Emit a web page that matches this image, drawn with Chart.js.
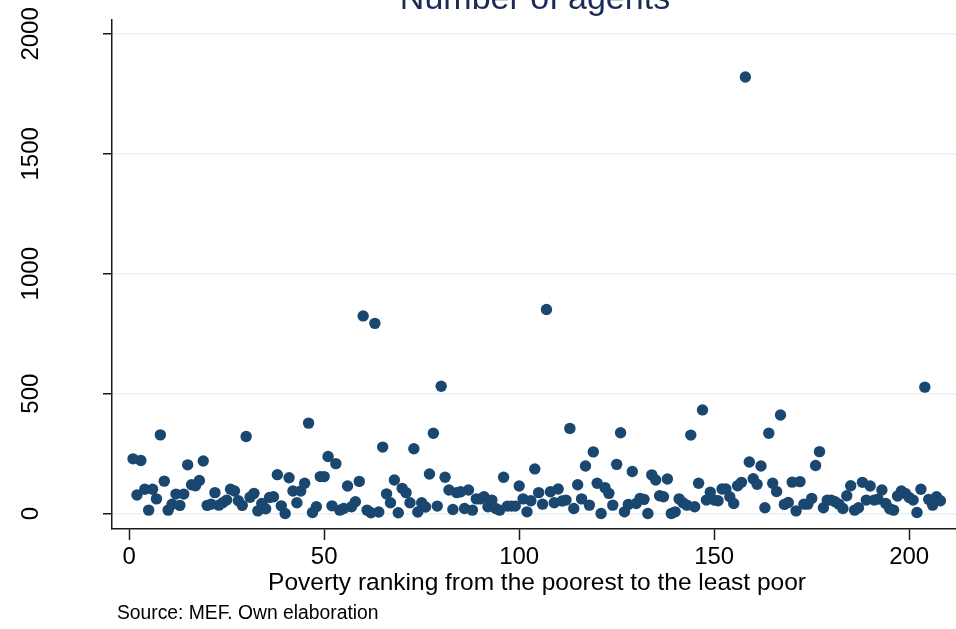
<!DOCTYPE html>
<html><head><meta charset="utf-8">
<script src="https://cdn.jsdelivr.net/npm/chart.js@4.4.1/dist/chart.umd.min.js"></script>
<style>html,body{margin:0;padding:0;background:#fff;overflow:hidden;}#wrap{width:956px;height:629px;}canvas{display:block;}</style>
</head><body><div id="wrap"><canvas id="c" width="956" height="629"></canvas></div>
<script>
const ranks = [1,2,3,4,5,6,7,8,9,10,11,12,13,14,15,16,17,18,19,20,21,22,23,24,25,26,27,28,29,30,31,32,33,34,35,36,37,38,39,40,41,42,43,44,45,46,47,48,49,50,51,52,53,54,55,56,57,58,59,60,61,62,63,64,65,66,67,68,69,70,71,72,73,74,75,76,77,78,79,80,81,82,83,84,85,86,87,88,89,90,91,92,93,94,95,96,97,98,99,100,101,102,103,104,105,106,107,108,109,110,111,112,113,114,115,116,117,118,119,120,121,122,123,124,125,126,127,128,129,130,131,132,133,134,135,136,137,138,139,140,141,142,143,144,145,146,147,148,149,150,151,152,153,154,155,156,157,158,159,160,161,162,163,164,165,166,167,168,169,170,171,172,173,174,175,176,177,178,179,180,181,182,183,184,185,186,187,188,189,190,191,192,193,194,195,196,197,198,199,200,201,202,203,204,205,206,207,208];
const agents = [228,77,221,101,14,101,61,328,135,14,39,81,34,81,203,120,116,138,219,34,
39,87,35,45,56,101,94,53,34,321,68,84,11,42,20,67,70,162,32,0,
149,94,45,94,126,377,4,28,154,154,238,32,208,14,21,115,28,49,134,824,
14,3,793,6,277,82,45,140,3,105,87,45,270,6,45,27,165,335,31,531,
151,98,17,87,91,21,98,14,61,61,70,28,56,21,14,151,31,31,31,115,
61,7,53,186,87,39,851,91,45,102,52,56,355,21,120,61,198,35,257,126,
0,108,84,35,205,337,7,38,175,42,63,59,0,161,140,74,70,144,0,7,
61,45,35,327,28,126,432,56,89,56,53,102,102,70,42,116,130,1820,215,145,
122,198,24,335,126,92,411,38,46,131,11,133,39,39,63,200,258,24,56,56,
49,39,21,74,116,14,24,130,56,115,56,60,98,42,20,14,73,94,84,67,
56,4,101,527,59,35,70,53];
const xTicks = [0,50,100,150,200];
const yTicks = [0,500,1000,1500,2000];
const titleText = 'Number of agents';
const xTitle = 'Poverty ranking from the poorest to the least poor';
const noteText = 'Source: MEF. Own elaboration';

const FONT = '"Liberation Sans", Arial, sans-serif';
const textPlugin = {
  id: 'texts',
  beforeDraw(chart){
    const ctx = chart.ctx; ctx.save(); ctx.fillStyle='#fff'; ctx.fillRect(0,0,chart.width,chart.height); ctx.restore();
  },
  afterDraw(chart){
    const ctx = chart.ctx; ctx.save();
    ctx.textBaseline='alphabetic';
    ctx.fillStyle='#1c2b55'; ctx.textAlign='center'; ctx.font='34px '+FONT;
    ctx.fillText(titleText, 535, 9);
    ctx.fillStyle='#000'; ctx.font='24.5px '+FONT;
    ctx.fillText(xTitle, 537, 590);
    ctx.textAlign='left'; ctx.font='19.3px '+FONT;
    ctx.fillText(noteText, 117, 619);
    ctx.restore();
  }
};
const noPad = s => { s.paddingTop=0; s.paddingBottom=0; s.paddingLeft=0; s.paddingRight=0; };

new Chart(document.getElementById('c'), {
  type: 'scatter',
  data: { datasets: [{ data: ranks.map((r,i)=>({x:r,y:agents[i]})), backgroundColor:'#1a476f', borderWidth:0, pointRadius:5.7, pointHoverRadius:5.7 }] },
  options: {
    responsive:false, animation:false, devicePixelRatio:1,
    layout:{autoPadding:false, padding:{top:20,left:0,right:0,bottom:0}},
    plugins:{legend:{display:false}, tooltip:{enabled:false}},
    scales:{
      x:{ type:'linear', min:-4.4, max:212,
        afterBuildTicks:s=>{s.ticks=xTicks.map(v=>({value:v}));},
        afterFit:s=>{s.height=100; noPad(s);},
        grid:{drawOnChartArea:false, drawTicks:true, tickLength:11, tickColor:'#1a1a1a', tickWidth:1.5},
        border:{display:true, color:'#1a1a1a', width:1.5},
        ticks:{font:{family:FONT,size:24}, color:'#000', padding:3, maxRotation:0, autoSkip:false, callback:v=>String(v)}
      },
      y:{ type:'linear', min:-64.6, max:2058,
        afterBuildTicks:s=>{s.ticks=yTicks.map(v=>({value:v}));},
        afterFit:s=>{s.width=112; noPad(s);},
        grid:{color:'#e8f0f2', lineWidth:1.5, drawTicks:true, tickLength:9, tickColor:'#1a1a1a', tickWidth:1.5},
        border:{display:true, color:'#1a1a1a', width:1.5},
        ticks:{font:{family:FONT,size:24}, color:'#000', minRotation:90, maxRotation:90, crossAlign:'center', padding:45, autoSkip:false, callback:v=>String(v)}
      }
    }
  },
  plugins:[textPlugin]
});
</script></body></html>
